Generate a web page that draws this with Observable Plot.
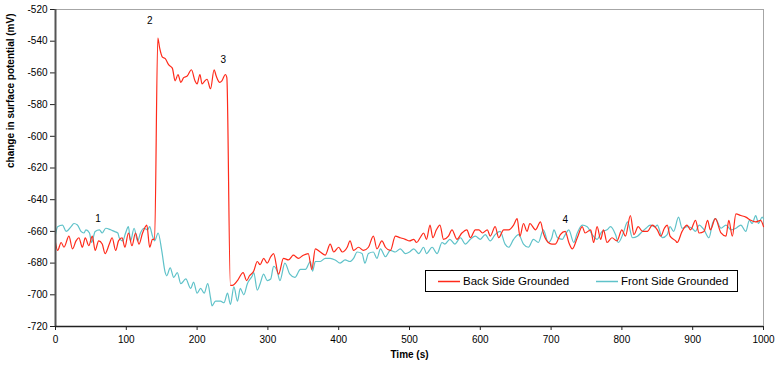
<!DOCTYPE html>
<html><head><meta charset="utf-8">
<script src="https://cdn.jsdelivr.net/npm/d3@7"></script>
<script src="https://cdn.jsdelivr.net/npm/@observablehq/plot@0.6"></script>
<style>
body{margin:0;background:#fff;}
#wrap{position:relative;width:781px;height:367px;font-family:"Liberation Sans",Arial,sans-serif;}
#legend{position:absolute;left:425px;top:270px;width:311px;height:20px;border:1px solid #000;background:#fff;font-size:11.5px;color:#000;}
#legend svg{position:absolute;left:0;top:0;}
#legend .lb{position:absolute;top:3px;line-height:14px;white-space:nowrap;}
</style></head>
<body><div id="wrap"></div>
<script>
const seriesNames = ["Back Side Grounded", "Front Side Grounded"];
const seriesColors = ["#ff2a1a", "#5fc2c9"];
const xTicks = [0,100,200,300,400,500,600,700,800,900,1000];
const yTicks = [-720,-700,-680,-660,-640,-620,-600,-580,-560,-540,-520];
const xLabel = "Time (s)";
const yLabel = "change in surface potential (mV)";
const annoLabels = ["1","2","3","4"];
const annoTime = [60,133,237,720];
const annoValue = [-652,-527,-552,-652.5];

const backTime = [0,3,8,12,19,24,29,33,38,42,47,52,56,61,66,70,76,80,85,89,94,98,103,108,113,118,123,129,133,137,140,144.5,147,151,155,160,165,169,173,177,181,186,192,197,200,204,207,211,214,219,224,227,232,235,240,242,247,250,257,265,270,274,280,285,289,294,299,304,308,315,322,329,336,343,350,357,362,367,374,381,388,393,400,405,412,416,421,428,435,442,449,454,461,466,473,480,487,494,500,506,510,515,520,524,529,533,538,543,548,555,560,567,574,581,586,593,598,603,610,614,621,626,633,640,647,652,656,661,666,670,678,685,689,696,701,706,713,720,725,730,737,744,748,756,760,765,770,774,779,786,793,800,805,812,817,823,829,836,843,850,855,860,864,868,876,878,885,892,897,904,909,916,921,925,932,940,947,951,956,961,968,975,982,989,996,1000];
const backValue = [-667,-672,-667,-670,-663,-671,-666,-664,-670,-664,-669,-663,-672,-666,-668,-674,-668,-664,-672,-666,-664,-670,-661,-669,-661,-668,-661,-656,-670,-665,-665,-538,-544,-550,-551,-555,-557,-565,-561,-566,-563,-562,-558,-565,-567,-561,-567,-565,-564,-570,-558,-562,-566,-565,-561,-563,-694,-694,-691,-686,-691,-688,-685,-679,-681,-677,-680,-676,-674,-687,-677,-678,-675,-677,-675,-674,-684,-671,-673,-675,-668,-673,-670,-673,-670,-666,-672,-670,-672,-670,-663,-671,-666,-670,-672,-663,-664,-665,-666,-665,-667,-664,-661,-665,-656,-664,-659,-656,-665,-663,-659,-665,-661,-659,-664,-659,-659,-661,-659,-663,-657,-664,-659,-659,-656,-652,-663,-655,-660,-655,-659,-654,-661,-667,-668,-668,-662,-660,-667,-671,-664,-657,-661,-659,-667,-657,-665,-659,-667,-664,-666,-659,-663,-650,-662,-657,-660,-660,-656,-659,-663,-658,-656,-663,-666,-667,-660,-656,-659,-653,-661,-660,-653,-659,-652,-661,-663,-653,-663,-649,-650,-651,-653,-654,-653,-657];

const frontTime = [0,3,10,15,22,26,31,36,40,43,48,51,56,62,66,71,78,83,88,90,95,99,103,106,111,116,120,125,130,133,137,140,145,150,155,157,162,167,172,177,184,191,195,200,205,210,215,219,221,226,233,238,243,247,252,257,261,266,271,278,280,285,289,294,299,304,308,313,317,324,331,338,346,353,360,363,367,374,381,388,395,402,409,416,421,426,433,437,442,449,454,459,466,473,480,487,494,500,506,513,520,524,532,539,546,550,557,564,572,579,586,593,600,607,614,621,628,635,640,647,654,661,668,675,682,689,696,701,704,709,716,720,725,732,737,744,751,758,765,772,779,784,791,795,802,808,815,822,829,834,840,847,850,855,857,864,868,873,880,885,892,899,904,909,916,923,928,932,940,947,954,961,968,975,980,984,989,993,998,1000];
const frontValue = [-662,-657,-656,-660,-657,-655,-656,-660,-661,-659,-661,-667,-660,-659,-661,-658,-659,-660,-661,-664,-666,-661,-657,-666,-658,-666,-661,-658,-659,-657,-663,-666,-661,-672,-686,-688,-683,-689,-686,-693,-690,-696,-692,-699,-696,-699,-693,-702,-707,-704,-704,-705,-699,-706,-695,-704,-696,-700,-693,-688,-686,-697,-693,-687,-691,-690,-682,-685,-691,-680,-687,-689,-684,-684,-679,-685,-679,-679,-677,-677,-678,-680,-678,-679,-677,-673,-674,-680,-674,-673,-677,-671,-676,-672,-673,-671,-674,-673,-671,-674,-670,-674,-670,-674,-667,-668,-665,-668,-664,-668,-665,-663,-665,-662,-666,-662,-660,-668,-670,-665,-662,-668,-670,-665,-667,-659,-667,-664,-659,-664,-665,-662,-659,-667,-661,-656,-657,-662,-665,-660,-659,-657,-662,-667,-661,-654,-664,-663,-660,-658,-656,-657,-656,-662,-664,-662,-657,-660,-651,-658,-657,-658,-660,-656,-659,-664,-655,-652,-658,-656,-659,-658,-656,-660,-653,-655,-650,-655,-651,-652];

const font = '"Liberation Sans", Arial, sans-serif';
const chart = Plot.plot({
  width: 781, height: 367,
  marginLeft: 55, marginRight: 18, marginTop: 9, marginBottom: 41,
  x: {domain: [0, 1000]},
  y: {domain: [-720, -520]},
  style: {fontFamily: font, fontSize: "10px", color: "#000", background: "#fff", overflow: "visible"},
  marks: [
    Plot.frame({stroke: "#a6a6a6", strokeWidth: 1}),
    Plot.axisX({ticks: xTicks, tickSize: 4, tickPadding: 5, tickFormat: d => String(d), label: null, stroke: "#222"}),
    Plot.axisY({ticks: yTicks, tickSize: 5, tickPadding: 3, tickFormat: d => String(d), label: null, stroke: "#222"}),
    Plot.line(frontTime, {x: frontTime, y: frontValue, stroke: seriesColors[1], strokeWidth: 1.2, curve: "monotone-x"}),
    Plot.line(backTime, {x: backTime, y: backValue, stroke: seriesColors[0], strokeWidth: 1.2, curve: "monotone-x"}),
    Plot.ruleX([0], {stroke: "#555", strokeWidth: 2}),
    Plot.ruleY([-720], {stroke: "#222", strokeWidth: 1.5}),
    Plot.text(annoLabels, {x: annoTime, y: annoValue, text: d => d, fill: "#000", fontSize: 10}),
    Plot.text([xLabel], {frameAnchor: "bottom", dy: 31, text: d => d, fontWeight: "bold", fontSize: 10, fill: "#000"}),
    Plot.text([yLabel], {frameAnchor: "left", dx: -45, rotate: -90, text: d => d, fontWeight: "bold", fontSize: 10, fill: "#000"})
  ]
});
const wrap = document.getElementById("wrap");
wrap.appendChild(chart);
const lg = document.createElement("div");
lg.id = "legend";
lg.innerHTML =
  `<svg width="311" height="20"><line x1="12" x2="34" y1="10.5" y2="10.5" stroke="${seriesColors[0]}" stroke-width="1.5"/>` +
  `<line x1="170" x2="192" y1="10.5" y2="10.5" stroke="${seriesColors[1]}" stroke-width="1.5"/></svg>` +
  `<div class="lb" style="left:37px">${seriesNames[0]}</div>` +
  `<div class="lb" style="left:195px">${seriesNames[1]}</div>`;
wrap.appendChild(lg);
</script>
</body></html>
